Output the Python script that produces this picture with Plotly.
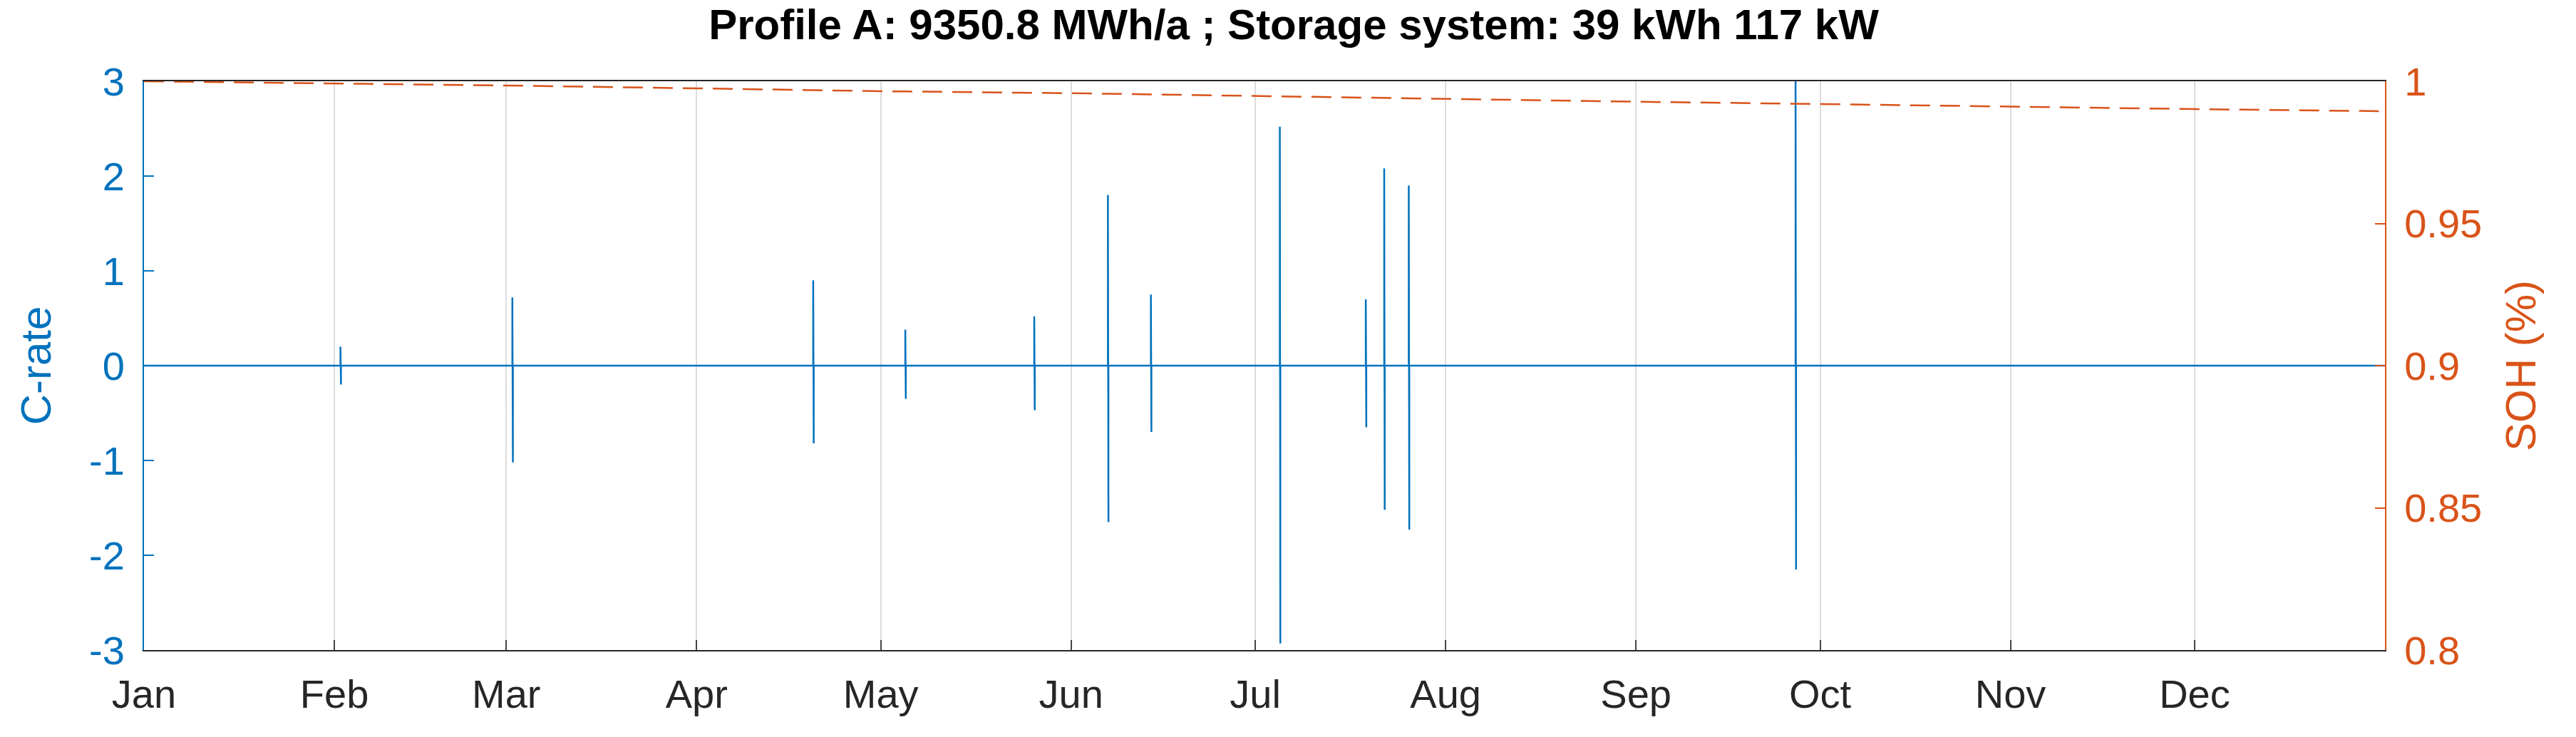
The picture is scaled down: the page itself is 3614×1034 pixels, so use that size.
import plotly.graph_objects as go
import pandas as pd

event_dates = ["2021-02-02","2021-03-02","2021-04-20","2021-05-05","2021-05-26","2021-06-07",
               "2021-06-14","2021-07-05","2021-07-19","2021-07-22","2021-07-26","2021-09-27"]
event_max = [0.2,0.72,0.9,0.38,0.52,1.8,0.75,2.52,0.7,2.08,1.9,3.0]
event_min = [-0.2,-1.02,-0.82,-0.35,-0.47,-1.65,-0.7,-2.93,-0.65,-1.52,-1.73,-2.15]

soh_dates = ["2021-01-01","2021-02-01","2021-03-01","2021-04-01","2021-05-01","2021-06-01","2021-07-01",
             "2021-08-01","2021-09-01","2021-10-01","2021-11-01","2021-12-01","2021-12-31"]
soh_vals = [1.0,0.9992,0.9985,0.9975,0.9965,0.9958,0.9948,0.9938,0.9928,0.992,0.991,0.9902,0.9895]

month_ticks = pd.date_range("2021-01-01", periods=12, freq="MS")
month_labels = ["Jan","Feb","Mar","Apr","May","Jun","Jul","Aug","Sep","Oct","Nov","Dec"]
crate_ticks = [-3,-2,-1,0,1,2,3]
crate_labels = ["-3","-2","-1","0","1","2","3"]
soh_ticks = [0.8,0.85,0.9,0.95,1]
soh_labels = ["0.8","0.85","0.9","0.95","1"]

BLUE = "#0072BD"; ORANGE = "#D95319"

xs = [pd.Timestamp("2021-01-01")]; ys = [0]
for d, mx, mn in zip(event_dates, event_max, event_min):
    t = pd.Timestamp(d)
    xs += [t, t, t + pd.Timedelta(hours=2), t + pd.Timedelta(hours=2)]
    ys += [0, mx, mn, 0]
xs.append(pd.Timestamp("2021-12-31 23:00")); ys.append(0)

fig = go.Figure()
fig.add_trace(go.Scatter(x=xs, y=ys, mode="lines", line=dict(color=BLUE, width=2.5), showlegend=False))
fig.add_trace(go.Scatter(x=pd.to_datetime(soh_dates), y=soh_vals, mode="lines", yaxis="y2",
                         line=dict(color=ORANGE, width=2.5, dash="28px,14px"), showlegend=False))

font = "Liberation Sans, Arial, sans-serif"
fig.update_layout(
    width=3614, height=1034, plot_bgcolor="white", paper_bgcolor="white",
    margin=dict(l=194, r=276, t=106, b=130),
    font=dict(family=font, size=56, color="#262626"),
    title=dict(text="<b>Profile A: 9350.8 MWh/a ; Storage system: 39 kWh 117 kW</b>",
               x=0.5, xanchor="center", y=0.995, yanchor="top", font=dict(size=60, color="black")),
    xaxis=dict(range=["2021-01-01", "2021-12-31 23:59"], tickvals=month_ticks, ticktext=month_labels,
               showgrid=True, gridcolor="#DCDCDC", gridwidth=2, showline=True, mirror=True,
               linecolor="#262626", linewidth=2, ticks="inside", ticklen=14, tickwidth=2, zeroline=False,
               ticklabelstandoff=12),
    yaxis=dict(range=[-3, 3], tickvals=crate_ticks, ticktext=crate_labels, color=BLUE, showgrid=False,
               zeroline=False, showline=True, linecolor=BLUE, linewidth=2, ticks="inside", ticklen=14,
               tickwidth=2, ticklabelstandoff=14,
               title=dict(text="C-rate", font=dict(color=BLUE, size=60), standoff=34)),
    yaxis2=dict(range=[0.8, 1], tickvals=soh_ticks, ticktext=soh_labels,
                overlaying="y", side="right", color=ORANGE, showgrid=False, zeroline=False,
                showline=True, linecolor=ORANGE, linewidth=2, ticks="inside", ticklen=14, tickwidth=2,
                ticklabelstandoff=14,
                title=dict(text="SOH (%)", font=dict(color=ORANGE, size=60), standoff=34)),
)
fig.write_html("out.html")
